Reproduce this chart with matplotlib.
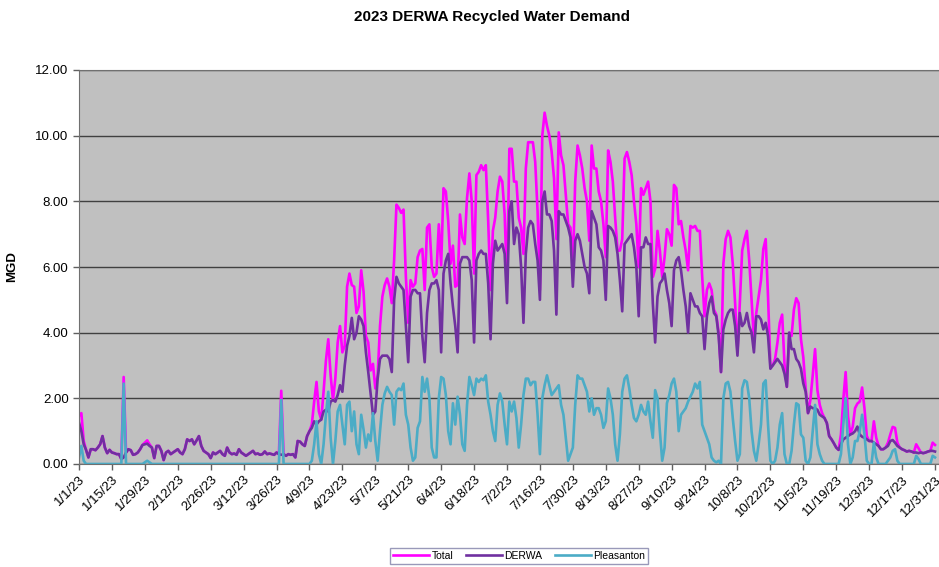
import numpy as np
import pandas as pd
import matplotlib
matplotlib.use('Agg')
import matplotlib.pyplot as plt

plt.rcParams['font.family'] = ['Liberation Sans', 'DejaVu Sans']

# daily flows, MGD (month by month)
jan_derwa = [1.26, 1.0, 0.6, 0.43, 0.2, 0.45, 0.45, 0.42, 0.5, 0.6, 0.85, 0.5, 0.33, 0.43, 0.35, 0.33,
             0.3, 0.3, 0.15, 0.2, 0.35, 0.45, 0.42, 0.28, 0.3, 0.35, 0.45, 0.58, 0.6, 0.62, 0.55]
feb_derwa = [0.5, 0.18, 0.55, 0.55, 0.4, 0.12, 0.35, 0.4, 0.3, 0.35, 0.4, 0.45, 0.35, 0.3, 0.45, 0.75,
             0.7, 0.75, 0.6, 0.72, 0.85, 0.55, 0.4, 0.35, 0.3, 0.18, 0.35, 0.3]
mar_derwa = [0.35, 0.4, 0.3, 0.25, 0.5, 0.35, 0.3, 0.32, 0.28, 0.45, 0.35, 0.3, 0.25, 0.3, 0.35, 0.4,
             0.3, 0.32, 0.28, 0.3, 0.38, 0.3, 0.32, 0.3, 0.28, 0.35, 0.3, 0.28, 0.3, 0.25, 0.3]
apr_derwa = [0.28, 0.3, 0.2, 0.7, 0.68, 0.6, 0.55, 0.85, 1.0, 1.1, 1.3, 1.2, 1.3, 1.35, 1.6, 1.65,
             1.6, 1.9, 1.95, 1.9, 2.1, 2.4, 2.2, 3.0, 3.6, 3.9, 4.45, 3.8, 4.0, 4.5]
may_derwa = [4.4, 4.2, 3.4, 2.8, 2.15, 1.5, 1.6, 2.6, 3.2, 3.3, 3.3, 3.3, 3.2, 2.8, 5.0, 5.7,
             5.5, 5.4, 5.3, 4.2, 3.1, 5.1, 5.3, 5.3, 5.2, 5.2, 3.9, 3.1, 4.6, 5.3, 5.5]
jun_derwa = [5.5, 5.6, 5.3, 3.4, 5.8, 6.2, 6.4, 5.5, 4.8, 4.2, 3.4, 6.1, 6.3, 6.3, 6.3, 6.2,
             5.6, 3.7, 6.2, 6.4, 6.5, 6.4, 6.4, 5.5, 3.8, 6.1, 6.8, 6.5, 6.6, 6.7]
jul_derwa = [6.4, 4.9, 7.7, 8.0, 6.7, 7.2, 7.0, 6.0, 4.3, 6.4, 7.2, 7.4, 7.3, 6.7, 6.2, 5.0,
             8.0, 8.3, 7.6, 7.6, 7.4, 6.5, 4.55, 7.7, 7.6, 7.6, 7.4, 7.2, 6.9, 5.4, 6.8]
aug_derwa = [7.0, 6.8, 6.4, 6.0, 5.8, 5.2, 7.7, 7.5, 7.3, 6.6, 6.5, 6.2, 5.0, 7.25, 7.2, 7.1,
             6.9, 6.4, 5.6, 4.65, 6.7, 6.8, 6.9, 7.0, 6.6, 6.0, 4.5, 6.6, 6.6, 6.9, 6.7]
sep_derwa = [6.7, 4.9, 3.7, 5.1, 5.5, 5.6, 5.8, 5.3, 4.9, 4.2, 5.9, 6.2, 6.3, 5.9, 5.3, 4.8,
             4.0, 5.2, 5.0, 4.8, 4.8, 4.6, 4.5, 3.5, 4.5, 4.9, 5.1, 4.6, 4.5, 3.9]
oct_derwa = [2.8, 4.1, 4.4, 4.6, 4.7, 4.7, 4.2, 3.3, 4.6, 4.2, 4.3, 4.6, 4.2, 4.0, 3.4, 4.5,
             4.5, 4.4, 4.1, 4.3, 3.9, 2.9, 3.0, 3.1, 3.2, 3.1, 3.0, 2.75, 2.35, 4.0, 3.5]
nov_derwa = [3.5, 3.2, 3.1, 2.9, 2.45, 2.2, 1.55, 1.75, 1.7, 1.7, 1.65, 1.5, 1.45, 1.4, 1.25, 0.85,
             0.75, 0.63, 0.5, 0.43, 0.6, 0.75, 0.8, 0.85, 0.9, 0.93, 1.0, 1.14, 0.9, 0.83]
dec_derwa = [0.8, 0.75, 0.7, 0.7, 0.65, 0.6, 0.55, 0.45, 0.45, 0.5, 0.55, 0.7, 0.73, 0.65, 0.55, 0.5,
             0.45, 0.42, 0.38, 0.4, 0.38, 0.35, 0.35, 0.33, 0.35, 0.33, 0.35, 0.38, 0.4, 0.4, 0.38]

jan_pleas = [0.2, 0.55, 0.1, 0.0, 0.0, 0.0, 0.0, 0.0, 0.0, 0.0, 0.0, 0.0, 0.0, 0.0, 0.0, 0.0,
             0.0, 0.0, 0.0, 2.45, 0.0, 0.0, 0.0, 0.0, 0.0, 0.0, 0.0, 0.0, 0.05, 0.1, 0.05]
feb_pleas = [0.0, 0.0, 0.0, 0.0, 0.0, 0.0, 0.0, 0.0, 0.0, 0.0, 0.0, 0.0, 0.0, 0.0, 0.0, 0.0,
             0.0, 0.0, 0.0, 0.0, 0.0, 0.0, 0.0, 0.0, 0.0, 0.0, 0.0, 0.0]
mar_pleas = [0.0, 0.0, 0.0, 0.0, 0.0, 0.0, 0.0, 0.0, 0.0, 0.0, 0.0, 0.0, 0.0, 0.0, 0.0, 0.0,
             0.0, 0.0, 0.0, 0.0, 0.0, 0.0, 0.0, 0.0, 0.0, 0.0, 0.0, 1.95, 0.0, 0.0, 0.0]
apr_pleas = [0.0, 0.0, 0.0, 0.0, 0.0, 0.0, 0.0, 0.0, 0.0, 0.1, 0.6, 1.3, 0.3, 0.0, 0.6, 1.5,
             2.2, 0.8, 0.0, 0.7, 1.6, 1.8, 1.2, 0.6, 1.8, 1.9, 1.0, 1.6, 0.6, 0.3]
may_pleas = [1.5, 1.05, 0.5, 0.9, 0.7, 1.55, 0.7, 0.1, 1.0, 1.8, 2.15, 2.35, 2.2, 2.1, 1.2, 2.2,
             2.3, 2.25, 2.45, 1.5, 1.2, 0.5, 0.1, 0.2, 1.1, 1.3, 2.65, 2.2, 2.6, 2.0, 0.5]
jun_pleas = [0.2, 0.2, 2.0, 2.65, 2.6, 2.1, 1.0, 0.6, 1.85, 1.2, 2.05, 1.5, 0.6, 0.4, 1.8, 2.65,
             2.4, 2.1, 2.6, 2.5, 2.6, 2.55, 2.7, 1.9, 1.5, 1.0, 0.7, 1.8, 2.15, 1.9]
jul_pleas = [1.2, 0.6, 1.9, 1.6, 1.9, 1.4, 0.5, 1.2, 2.1, 2.6, 2.6, 2.4, 2.5, 2.5, 1.5, 0.3,
             2.0, 2.4, 2.7, 2.4, 2.1, 2.2, 2.3, 2.4, 1.8, 1.5, 0.8, 0.1, 0.3, 0.5, 1.8]
aug_pleas = [2.7, 2.6, 2.6, 2.4, 2.2, 1.6, 2.0, 1.5, 1.7, 1.7, 1.5, 1.1, 1.3, 2.3, 2.0, 1.5,
             0.6, 0.1, 0.9, 2.2, 2.6, 2.7, 2.3, 1.8, 1.4, 1.3, 1.5, 1.8, 1.6, 1.5, 1.9]
sep_pleas = [1.3, 0.8, 2.25, 2.0, 1.0, 0.1, 0.5, 1.85, 2.1, 2.45, 2.6, 2.2, 1.0, 1.5, 1.6, 1.7,
             1.9, 2.05, 2.2, 2.45, 2.3, 2.5, 1.2, 1.0, 0.8, 0.6, 0.2, 0.1, 0.05, 0.1]
oct_pleas = [0.0, 2.0, 2.45, 2.5, 2.2, 1.4, 0.7, 0.1, 0.3, 2.3, 2.55, 2.5, 2.0, 1.0, 0.4, 0.1,
             0.6, 1.2, 2.45, 2.55, 1.2, 0.1, 0.0, 0.1, 0.5, 1.2, 1.55, 0.3, 0.0, 0.0, 0.4]
nov_pleas = [1.2, 1.85, 1.8, 0.9, 0.8, 0.1, 0.0, 0.2, 1.0, 1.8, 0.6, 0.3, 0.1, 0.0, 0.0, 0.0,
             0.0, 0.0, 0.0, 0.0, 0.3, 1.2, 2.0, 0.6, 0.0, 0.2, 0.7, 0.7, 1.0, 1.5]
dec_pleas = [0.9, 0.1, 0.0, 0.0, 0.65, 0.2, 0.0, 0.0, 0.0, 0.0, 0.1, 0.2, 0.4, 0.45, 0.1, 0.0,
             0.0, 0.0, 0.0, 0.0, 0.0, 0.0, 0.25, 0.15, 0.0, 0.0, 0.0, 0.0, 0.0, 0.25, 0.2]

derwa = (jan_derwa + feb_derwa + mar_derwa + apr_derwa + may_derwa + jun_derwa +
         jul_derwa + aug_derwa + sep_derwa + oct_derwa + nov_derwa + dec_derwa)
pleasanton = (jan_pleas + feb_pleas + mar_pleas + apr_pleas + may_pleas + jun_pleas +
              jul_pleas + aug_pleas + sep_pleas + oct_pleas + nov_pleas + dec_pleas)
# Total = DERWA + Pleasanton
total = [d + p for d, p in zip(derwa, pleasanton)]

days = pd.date_range('2023-01-01', periods=len(derwa), freq='D')
tick_dates = pd.date_range('2023-01-01', '2023-12-31', freq='14D')
tick_labels = [f'{d.month}/{d.day}/23' for d in tick_dates]

fig = plt.figure(figsize=(9.39, 5.67), dpi=100)
ax = fig.add_axes([79 / 939, 1 - 464 / 567, 860 / 939, 394 / 567])
ax.set_facecolor('#c0c0c0')

ax.plot(days, total, color='#ff00ff', lw=1.9, label='Total')
ax.plot(days, derwa, color='#7030a0', lw=1.9, label='DERWA')
ax.plot(days, pleasanton, color='#4bacc6', lw=1.9, label='Pleasanton')

ax.set_ylim(0, 12)
ax.set_yticks(np.arange(0, 12.1, 2))
ax.yaxis.set_major_formatter(lambda v, p: f'{v:.2f}')
ax.grid(axis='y', color='#404040', lw=1)
ax.set_axisbelow(True)

ax.set_xticks(tick_dates)
ax.set_xticklabels(tick_labels, rotation=45, ha='right', va='top', rotation_mode='anchor')
ax.set_xlim(days[0], days[0] + pd.Timedelta(days=365.7))

ax.tick_params(axis='both', labelsize=9.5, color='#606060', length=4, width=1)
ax.tick_params(axis='x', pad=3)
for side in ['left', 'bottom', 'top']:
    ax.spines[side].set_color('#707070')
ax.spines['right'].set_visible(False)

ax.set_ylabel('MGD', fontweight='bold', fontsize=9.5)
ax.yaxis.set_label_coords(-61 / 860, 0.5)
fig.text(0.524, 1 - 17 / 567, '2023 DERWA Recycled Water Demand', ha='center', va='center',
         fontsize=11, fontweight='bold')

fig.legend(loc='upper center', bbox_to_anchor=(519 / 939, 1 - 548 / 567), ncol=3, fontsize=7.5,
           frameon=True, fancybox=False, edgecolor='#8080a8', handlelength=3.5, columnspacing=1.2,
           borderaxespad=0, borderpad=0.3, handletextpad=0.2)

fig.savefig('out.png', dpi=100)
